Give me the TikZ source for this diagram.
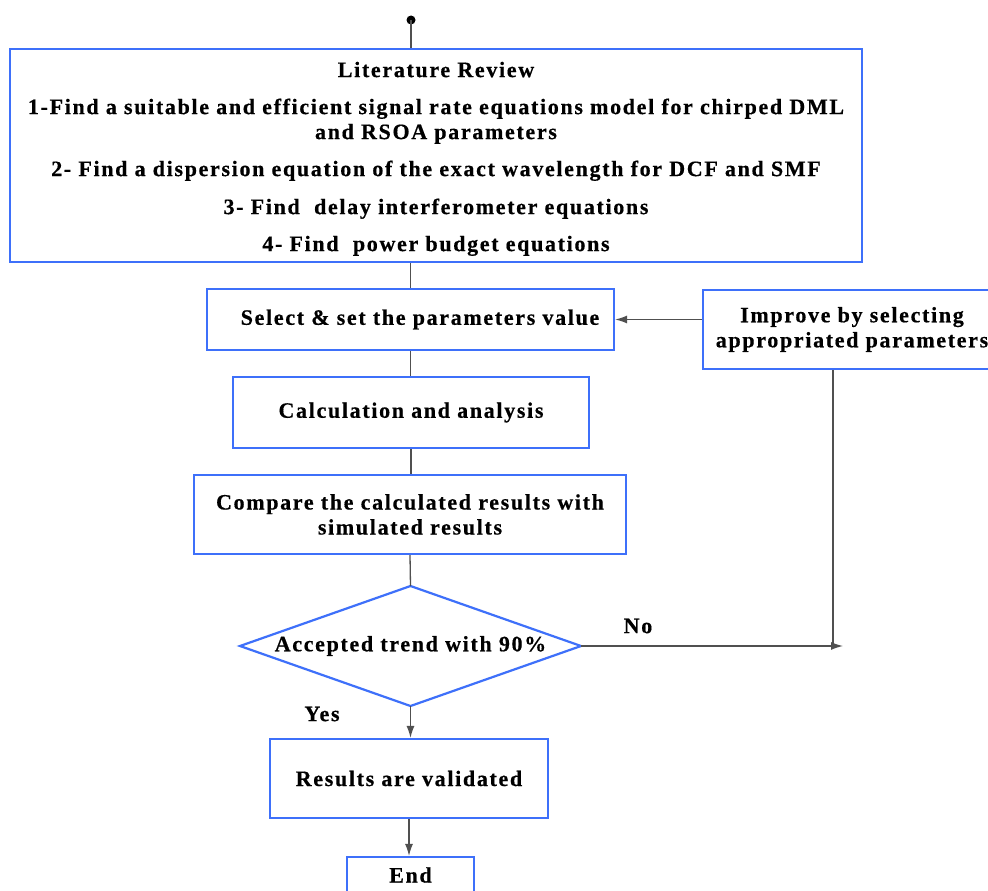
\documentclass[tikz,border=0pt]{standalone}
\usepackage{fontspec}
\setmainfont{Liberation Serif}[LetterSpace=7.6,BoldFeatures={FakeBold=0.5}]
\usetikzlibrary{arrows.meta}
\definecolor{boxblue}{RGB}{62,112,250}
\definecolor{linegray}{RGB}{80,80,80}
\begin{document}
\begin{tikzpicture}[x=1pt,y=-1pt,
  boxline/.style={draw=boxblue,line width=2.2pt,line join=miter},
  box/.style={boxline,rectangle,inner sep=0pt,align=center,
    font=\bfseries\fontsize{22}{25}\selectfont},
  conn/.style={draw=linegray,line width=1.3pt},
  arr/.style={conn,-{Latex[length=12pt,width=8pt]}},
  lbl/.style={font=\bfseries\fontsize{22}{25}\selectfont,inner sep=0pt}]
\clip (0,0) rectangle (988,891);
\fill[white] (0,0) rectangle (988,891);
\coordinate (start) at (411,20);
\node[box,minimum width=852pt,minimum height=213pt] (lit) at (436,155.5)
  {\rule{0pt}{22pt}Literature Review\\[12pt]
   1-Find a suitable and efficient signal rate equations model for chirped DML\\
   and RSOA parameters\\[12pt]
   2- Find a dispersion equation of the exact wavelength for DCF and SMF\\[13pt]
   3- Find\ \ delay interferometer equations\\[12pt]
   4- Find\ \ power budget equations};
\node[box,minimum width=407pt,minimum height=61pt] (sel) at (410.5,319.5)
  {\hspace*{19pt}Select \& set the parameters value};
\node[box,minimum width=356pt,minimum height=71pt] (calc) at (411,412.5)
  {Calculation and analysis};
\node[box,minimum width=432pt,minimum height=79pt] (comp) at (410,514.5)
  {Compare the calculated results with\\simulated results};
\node[lbl] (dec) at (410.5,646) {Accepted trend with 90\%};
\coordinate (dN) at (410.5,586);
\coordinate (dS) at (410.5,706);
\coordinate (dW) at (240,646);
\coordinate (dE) at (581,646);
\draw[boxline] (dN) -- (dE) -- (dS) -- (dW) -- cycle;
\node[box,minimum width=278pt,minimum height=79pt] (res) at (409,778.5)
  {Results are validated};
\node[box,minimum width=127pt,minimum height=36pt] (end) at (410.5,875)
  {End};
\node[box,minimum width=298pt,minimum height=79pt] (imp) at (852,329.5)
  {Improve by selecting\\appropriated parameters};
\node[lbl] (no) at (638,626) {No};
\node[lbl] (yes) at (322,714) {Yes};
\coordinate (join) at (833,646);
\coordinate (noend) at (843,646);
\fill[black] (start) circle (4.5pt);
\draw[conn] (start) -- (start |- lit.north);
\draw[conn] (sel.north |- lit.south) -- (sel.north);
\draw[conn] (sel.south) -- (sel.south |- calc.north);
\draw[conn] (calc.south) -- (calc.south |- comp.north);
\draw[conn] (comp.south) -- (dN);
\draw[arr] (dS) -- (dS |- res.north);
\draw[arr] (res.south) -- (res.south |- end.north);
\draw[arr] (sel.east -| imp.west) -- (sel.east);
\draw[arr] (dE) -- (noend);
\draw[conn] (join |- imp.south) -- (join);
\end{tikzpicture}
\end{document}
